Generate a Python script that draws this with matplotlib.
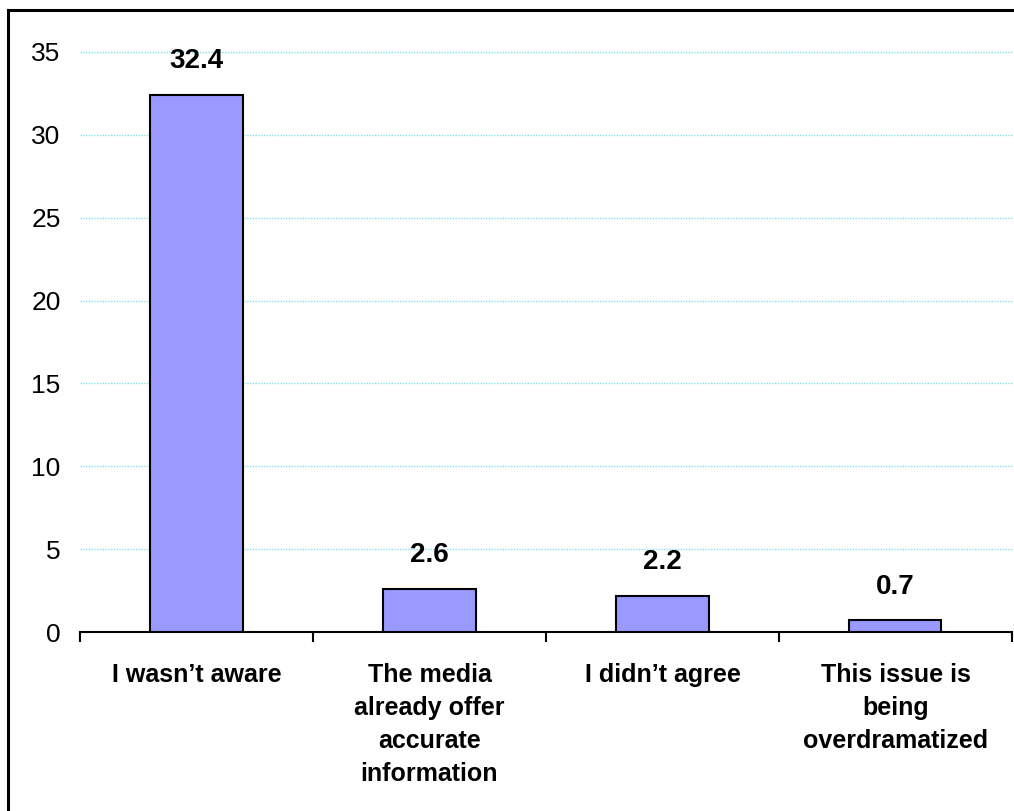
import matplotlib.pyplot as plt
from matplotlib.lines import Line2D

plt.rcParams['font.family'] = ['Liberation Sans', 'DejaVu Sans']

categories = ["I wasn\u2019t aware",
              "The media\nalready offer\naccurate\ninformation",
              "I didn\u2019t agree",
              "This issue is\nbeing\noverdramatized"]
values = [32.4, 2.6, 2.2, 0.7]
yticks = [0, 5, 10, 15, 20, 25, 30, 35]

fig = plt.figure(figsize=(10.14, 8.11), dpi=100)
ax = fig.add_axes([0.0789, 0.2207, 0.9191, 0.7152])

x = range(len(categories))
bars = ax.bar(x, values, width=0.395, color="#9999FF",
              edgecolor="black", linewidth=1.5, zorder=3)

for b, v in zip(bars, values):
    ax.annotate(f"{v:.1f}", (b.get_x() + b.get_width() / 2, v),
                xytext=(0, 15), textcoords="offset points",
                ha="center", va="bottom", fontsize=20, fontweight="bold")

ax.set_xlim(-0.5, len(categories) - 0.5)
ax.set_ylim(0, 35)
ax.set_yticks(yticks)
ax.grid(axis="y", color="#7FE3F5", linestyle=(0, (1, 1)), linewidth=1.0,
        zorder=0, clip_on=False)
ax.yaxis.get_gridlines()[0].set_visible(False)

# category ticks sit on the boundaries between bars
ax.set_xticks([i - 0.5 for i in range(len(categories) + 1)], minor=False)
ax.set_xticklabels([])
ax.set_xticks(list(x), minor=True)
ax.set_xticklabels(categories, minor=True, fontsize=18, fontweight="bold",
                   linespacing=1.48)
ax.tick_params(axis="x", which="major", direction="out", length=7, width=1.5)
ax.tick_params(axis="x", which="minor", length=0, pad=22)
ax.tick_params(axis="y", length=0, labelsize=19, pad=14)

for side in ("left", "right", "top"):
    ax.spines[side].set_visible(False)
ax.spines["bottom"].set_linewidth(1.5)

# outer frame: only the top and left edges fall inside the image
frame_x, frame_y = 0.0079, 0.9877
fig.add_artist(Line2D([frame_x, 1.02], [frame_y, frame_y], color="black",
                      linewidth=2.2, transform=fig.transFigure))
fig.add_artist(Line2D([frame_x, frame_x], [-0.02, frame_y], color="black",
                      linewidth=2.2, transform=fig.transFigure,
                      solid_capstyle="projecting"))

fig.savefig("out.png", dpi=100)
